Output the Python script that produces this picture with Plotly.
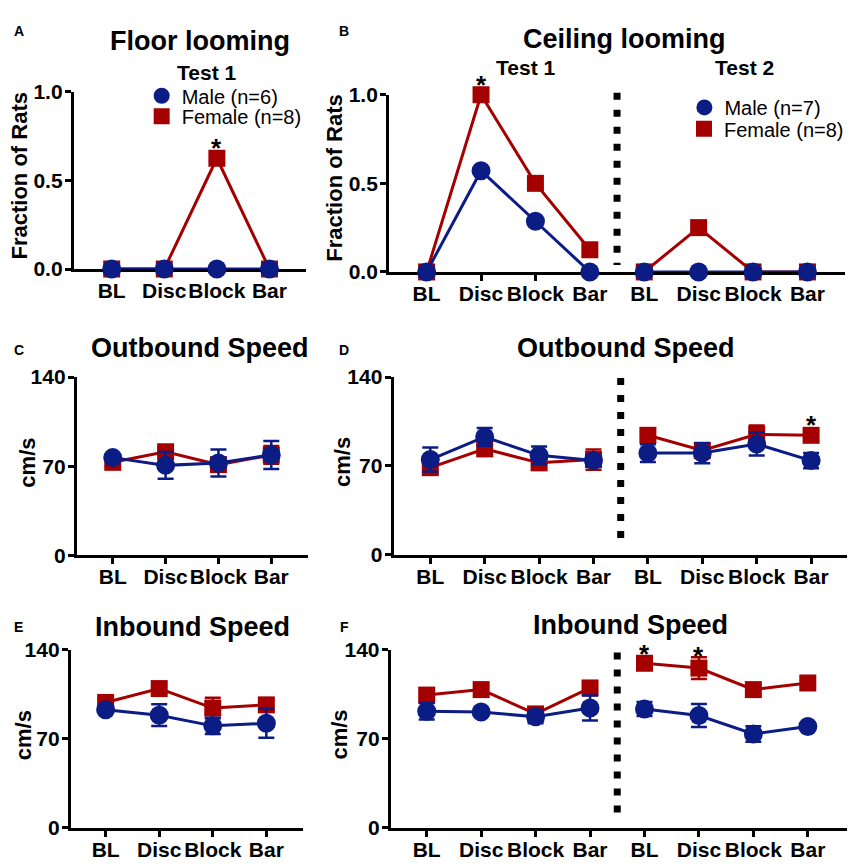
import plotly.graph_objects as go

W, H = 849, 868
FONT = "Liberation Sans, Arial, sans-serif"
MALE_C = "#0B1C85"
FEM_C = "#A50000"

# ---------------- data ----------------
cats = ["BL", "Disc", "Block", "Bar"]

# A: floor looming, fraction of rats (Test 1)
floor_male = [0, 0, 0, 0]
floor_female = [0, 0, 0.625, 0]

# B: ceiling looming, fraction of rats
ceil_male_t1 = [0, 0.571, 0.286, 0]
ceil_male_t2 = [0, 0, 0, 0]
ceil_female_t1 = [0, 1.0, 0.5, 0.125]
ceil_female_t2 = [0, 0.25, 0, 0]

# C: outbound speed (floor)
outC_male = [76.7, 70.6, 72.4, 78.8]
outC_male_err = [2, 10.5, 10.6, 11]
outC_female = [73.0, 81.3, 71.2, 78.8]
outC_female_err = [3, 3, 5, 7]

# D: outbound speed (ceiling)
outD_male_t1 = [75.0, 92.8, 78.3, 74.2]
outD_male_t1_err = [9.4, 7, 7, 4]
outD_male_t2 = [80.1, 80.1, 87.2, 74.2]
outD_male_t2_err = [7, 8, 9, 6]
outD_female_t1 = [68.6, 83.4, 72.4, 75.0]
outD_female_t1_err = [4, 3, 3, 8]
outD_female_t2 = [94.1, 82.1, 94.9, 94.1]
outD_female_t2_err = [3, 5, 7, 3]

# E: inbound speed (floor)
inE_male = [92.8, 88.5, 80.1, 82.1]
inE_male_err = [2, 8.5, 6.4, 11.4]
inE_female = [98.5, 109.4, 94.1, 96.6]
inE_female_err = [2, 3, 8, 4]

# F: inbound speed (ceiling)
inF_male_t1 = [91.6, 91.0, 87.2, 94.1]
inF_male_t1_err = [6.5, 2, 5, 9.8]
inF_male_t2 = [93.3, 88.2, 73.7, 79.6]
inF_male_t2_err = [5.5, 9, 6, 3]
inF_female_t1 = [104.3, 108.6, 89.5, 109.9]
inF_female_t1_err = [3, 3, 3, 3]
inF_female_t2 = [129.3, 125.5, 108.6, 113.8]
inF_female_t2_err = [3, 8.5, 3, 3]

pos1 = list(range(len(cats)))
pos2 = [p + len(cats) for p in pos1]


def px(x):
    return x / W


def py(y):
    return 1 - y / H


fig = go.Figure()


def add(ax, xs, ys, err, color, symbol, size):
    tr = dict(
        x=xs, y=ys, mode="lines+markers",
        line=dict(color=color, width=3),
        marker=dict(color=color, symbol=symbol, size=size),
        cliponaxis=False, showlegend=False,
        xaxis="x" + ax, yaxis="y" + ax,
    )
    if err is not None:
        tr["error_y"] = dict(type="data", array=err, color=color,
                             thickness=2.5, width=8, visible=True)
    fig.add_trace(go.Scatter(**tr))


def fem(ax, xs, ys, err=None):
    add(ax, xs, ys, err, FEM_C, "square", 17)


def mal(ax, xs, ys, err=None):
    add(ax, xs, ys, err, MALE_C, "circle", 19)


# A
fem("", pos1, floor_female)
mal("", pos1, floor_male)
# B
fem("2", pos1, ceil_female_t1)
fem("2", pos2, ceil_female_t2)
mal("2", pos1, ceil_male_t1)
mal("2", pos2, ceil_male_t2)
# C
fem("3", pos1, outC_female, outC_female_err)
mal("3", pos1, outC_male, outC_male_err)
# D
fem("4", pos1, outD_female_t1, outD_female_t1_err)
fem("4", pos2, outD_female_t2, outD_female_t2_err)
mal("4", pos1, outD_male_t1, outD_male_t1_err)
mal("4", pos2, outD_male_t2, outD_male_t2_err)
# E
fem("5", pos1, inE_female, inE_female_err)
mal("5", pos1, inE_male, inE_male_err)
# F
fem("6", pos1, inF_female_t1, inF_female_t1_err)
fem("6", pos2, inF_female_t2, inF_female_t2_err)
mal("6", pos1, inF_male_t1, inF_male_t1_err)
mal("6", pos2, inF_male_t2, inF_male_t2_err)

# legend-only traces
legend_items = [
    ("Male (n=6)", MALE_C, "circle", "legend", ""),
    ("Female (n=8)", FEM_C, "square", "legend2", ""),
    ("Male (n=7)", MALE_C, "circle", "legend3", "2"),
    ("Female (n=8)", FEM_C, "square", "legend4", "2"),
]
for name, c, sym, lg, ax in legend_items:
    fig.add_trace(go.Scatter(
        x=[None], y=[None], mode="markers", name=name,
        marker=dict(color=c, symbol=sym, size=17),
        legend=lg, showlegend=True, xaxis="x" + ax, yaxis="y" + ax))

# ---------------- axes ----------------
axis_common = dict(showgrid=False, zeroline=False, showline=True,
                   linecolor="black", linewidth=3, ticks="outside",
                   ticklen=6, tickwidth=3, tickcolor="black",
                   layer="below traces",
                   tickfont=dict(family=FONT, size=21, color="black", weight="bold"))

panels = {
    "": dict(xd=(74, 307), yd=(82, 264), xr=(-0.72, 3.70), n=4, frac=True),
    "2": dict(xd=(390, 847), yd=(85, 267), xr=(-0.69, 7.69), n=8, frac=True),
    "3": dict(xd=(77, 309), yd=(375, 558), xr=(-0.68, 3.70), n=4, frac=False),
    "4": dict(xd=(394.5, 849), yd=(375, 557.5), xr=(-0.675, 7.66), n=8, frac=False),
    "5": dict(xd=(71, 304), yd=(655, 838), xr=(-0.65, 3.69), n=4, frac=False),
    "6": dict(xd=(391.7, 849), yd=(655, 838), xr=(-0.66, 7.72), n=8, frac=False),
}

layout_axes = {}
for ax, p in panels.items():
    xk = "xaxis" + ax
    yk = "yaxis" + ax
    tickpos = pos1 if p["n"] == 4 else pos1 + pos2
    ticktxt = cats if p["n"] == 4 else cats + cats
    layout_axes[xk] = dict(axis_common, domain=[px(p["xd"][0]), px(p["xd"][1])],
                           range=list(p["xr"]), tickvals=tickpos, ticktext=ticktxt,
                           anchor="y" + ax, ticklabelstandoff=-5, tickangle=0)
    if p["frac"]:
        yt = dict(range=[0, 1], tickvals=[0, 0.5, 1], ticktext=["0.0", "0.5", "1.0"])
    else:
        yt = dict(range=[0, 140], tickvals=[0, 70, 140], ticktext=["0", "70", "140"])
    layout_axes[yk] = dict(axis_common, domain=[py(p["yd"][1]), py(p["yd"][0])],
                           anchor="x" + ax, ticklabelstandoff=-2, **yt)

# ---------------- annotations ----------------
ann = []


def text(x, y, s, size, bold=True, angle=0):
    ann.append(dict(x=px(x), y=py(y), xref="paper", yref="paper",
                    text=("<b>%s</b>" % s) if bold else s, showarrow=False,
                    xanchor="center", yanchor="middle", textangle=angle,
                    font=dict(family=FONT, size=size, color="black")))


# panel letters
for lx, ly, s in [(19, 20, "A"), (345, 20, "B"), (19, 347, "C"), (345, 347, "D"),
                  (19, 632, "E"), (345, 632, "F")]:
    text(lx, ly, s, 14)

text(200, 30, "Floor looming", 27)
text(207, 62, "Test 1", 21)
text(626, 28, "Ceiling looming", 27)
text(527, 57, "Test 1", 21)
text(746, 57, "Test 2", 21)
text(200, 345, "Outbound Speed", 27)
text(627, 345, "Outbound Speed", 27)
text(193, 632, "Inbound Speed", 27)
text(632, 630, "Inbound Speed", 27)

text(20, 168, "Fraction of Rats", 22, angle=-90)
text(335, 171, "Fraction of Rats", 22, angle=-90)
text(28, 463, "cm/s", 22, angle=-90)
text(344, 462, "cm/s", 22, angle=-90)
text(23, 743, "cm/s", 22, angle=-90)
text(340, 742, "cm/s", 22, angle=-90)

# significance stars (x on category axis, y in pixels)
stars = [("", 2, 140), ("2", 1, 75), ("4", 7, 424), ("6", 4, 659), ("6", 5, 662)]
for ax, xi, ypix in stars:
    ann.append(dict(x=xi, y=py(ypix), xref="x" + ax, yref="paper", text="<b>*</b>",
                    showarrow=False, xanchor="center", yanchor="middle",
                    font=dict(family=FONT, size=26, color="black")))

# ---------------- dashed separators ----------------
shapes = []
for ax, top, bot in [("2", 83, 260), ("4", 376, 548), ("6", 658, 830)]:
    shapes.append(dict(type="line", xref="x" + ax, yref="paper", x0=3.5, x1=3.5,
                       y0=py(top), y1=py(bot),
                       line=dict(color="black", width=7, dash="7px,10px")))

leg_common = dict(xanchor="left", yanchor="middle", bgcolor="rgba(0,0,0,0)",
                  borderwidth=0, font=dict(family=FONT, size=20, color="black"),
                  itemwidth=30)

fig.update_layout(
    width=W, height=H, margin=dict(l=0, r=0, t=0, b=0),
    paper_bgcolor="white", plot_bgcolor="white",
    annotations=ann, shapes=shapes,
    legend=dict(leg_common, x=px(163 - 21), y=py(86)),
    legend2=dict(leg_common, x=px(163 - 21), y=py(107)),
    legend3=dict(leg_common, x=px(707 - 21), y=py(98)),
    legend4=dict(leg_common, x=px(707 - 21), y=py(120)),
    **layout_axes,
)

fig.write_html("out.html")
